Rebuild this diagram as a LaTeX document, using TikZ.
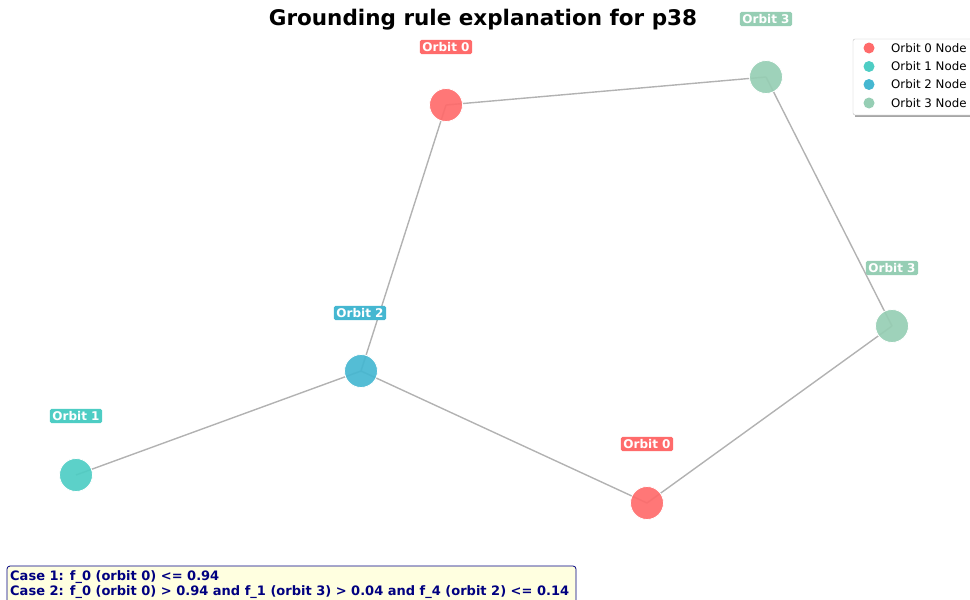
\documentclass[tikz,border=0pt]{standalone}
\usepackage{fontspec}
\setmainfont{DejaVu Sans}
\usetikzlibrary{backgrounds}
\begin{document}
\begin{tikzpicture}[x=1pt,y=-1pt,
  orbA/.style={circle,fill=oA,draw=white,line width=0.8pt,minimum size=33pt,inner sep=0pt,fill opacity=0.92},
  orbB/.style={orbA,fill=oB},
  orbC/.style={orbA,fill=oC},
  orbD/.style={orbA,fill=oD},
  lbl/.style={rounded corners=1.5pt,inner sep=2.5pt,text=white,font=\bfseries\fontsize{12}{13}\selectfont},
  edge/.style={draw=edgegray,line width=1.4pt},
  legtext/.style={anchor=west,font=\fontsize{11.8}{13}\selectfont,inner sep=0pt},
  legdot/.style={circle,minimum size=11pt,inner sep=0pt},
]
\definecolor{oA}{HTML}{FF6B6B}
\definecolor{oB}{HTML}{4ECDC4}
\definecolor{oC}{HTML}{45B7D1}
\definecolor{oD}{HTML}{96CEB4}
\definecolor{edgegray}{RGB}{178,178,178}
\definecolor{navytext}{RGB}{0,0,128}
\definecolor{lyellow}{RGB}{255,255,224}
\useasboundingbox (0,0) rectangle (970,600);
\clip (0,0) rectangle (970,600);

% title
\node[font=\bfseries\fontsize{21.5}{24}\selectfont] (title) at (483,20) {Grounding rule explanation for p38};

% nodes
\node[orbA] (a) at (446,105) {};
\node[orbD] (b) at (766,77) {};
\node[orbD] (c) at (892,326) {};
\node[orbC] (d) at (361,371) {};
\node[orbB] (e) at (76,475) {};
\node[orbA] (f) at (647,503) {};

% edges (behind nodes)
\begin{scope}[on background layer]
\draw[edge] (a.center) -- (b.center);
\draw[edge] (b.center) -- (c.center);
\draw[edge] (c.center) -- (f.center);
\draw[edge] (f.center) -- (d.center);
\draw[edge] (d.center) -- (e.center);
\draw[edge] (d.center) -- (a.center);
\end{scope}

% labels
\node[lbl,fill=oA] (la) at (446,47) {Orbit 0};
\node[lbl,fill=oD] (lb) at (766,19) {Orbit 3};
\node[lbl,fill=oD] (lc) at (892,268) {Orbit 3};
\node[lbl,fill=oC] (ld) at (360,313) {Orbit 2};
\node[lbl,fill=oB] (le) at (76,416) {Orbit 1};
\node[lbl,fill=oA] (lf) at (647,444) {Orbit 0};

% legend
\fill[black!35] (855,41) rectangle (980,117);
\draw[draw=black!25,fill=white,rounded corners=2pt] (853,39) rectangle (985,115);
\node[legdot,fill=oA] (k0) at (869,48) {};
\node[legdot,fill=oB] (k1) at (869,66.5) {};
\node[legdot,fill=oC] (k2) at (869,84.5) {};
\node[legdot,fill=oD] (k3) at (869,103) {};
\node[legtext] (t0) at (891,48) {Orbit 0 Node};
\node[legtext] (t1) at (891,66.5) {Orbit 1 Node};
\node[legtext] (t2) at (891,84.5) {Orbit 2 Node};
\node[legtext] (t3) at (891,103) {Orbit 3 Node};

% bottom text box
\draw[draw=navytext,fill=lyellow,rounded corners=3pt,line width=0.8pt] (7,566) rectangle (576,610);
\node[anchor=north west,align=left,text=navytext,inner sep=0pt,font=\bfseries\fontsize{13}{15}\selectfont] (cases) at (10,570.5)
 {Case 1: f\_0 (orbit 0) <= 0.94\\Case 2: f\_0 (orbit 0) > 0.94 and f\_1 (orbit 3) > 0.04 and f\_4 (orbit 2) <= 0.14};
\end{tikzpicture}
\end{document}
